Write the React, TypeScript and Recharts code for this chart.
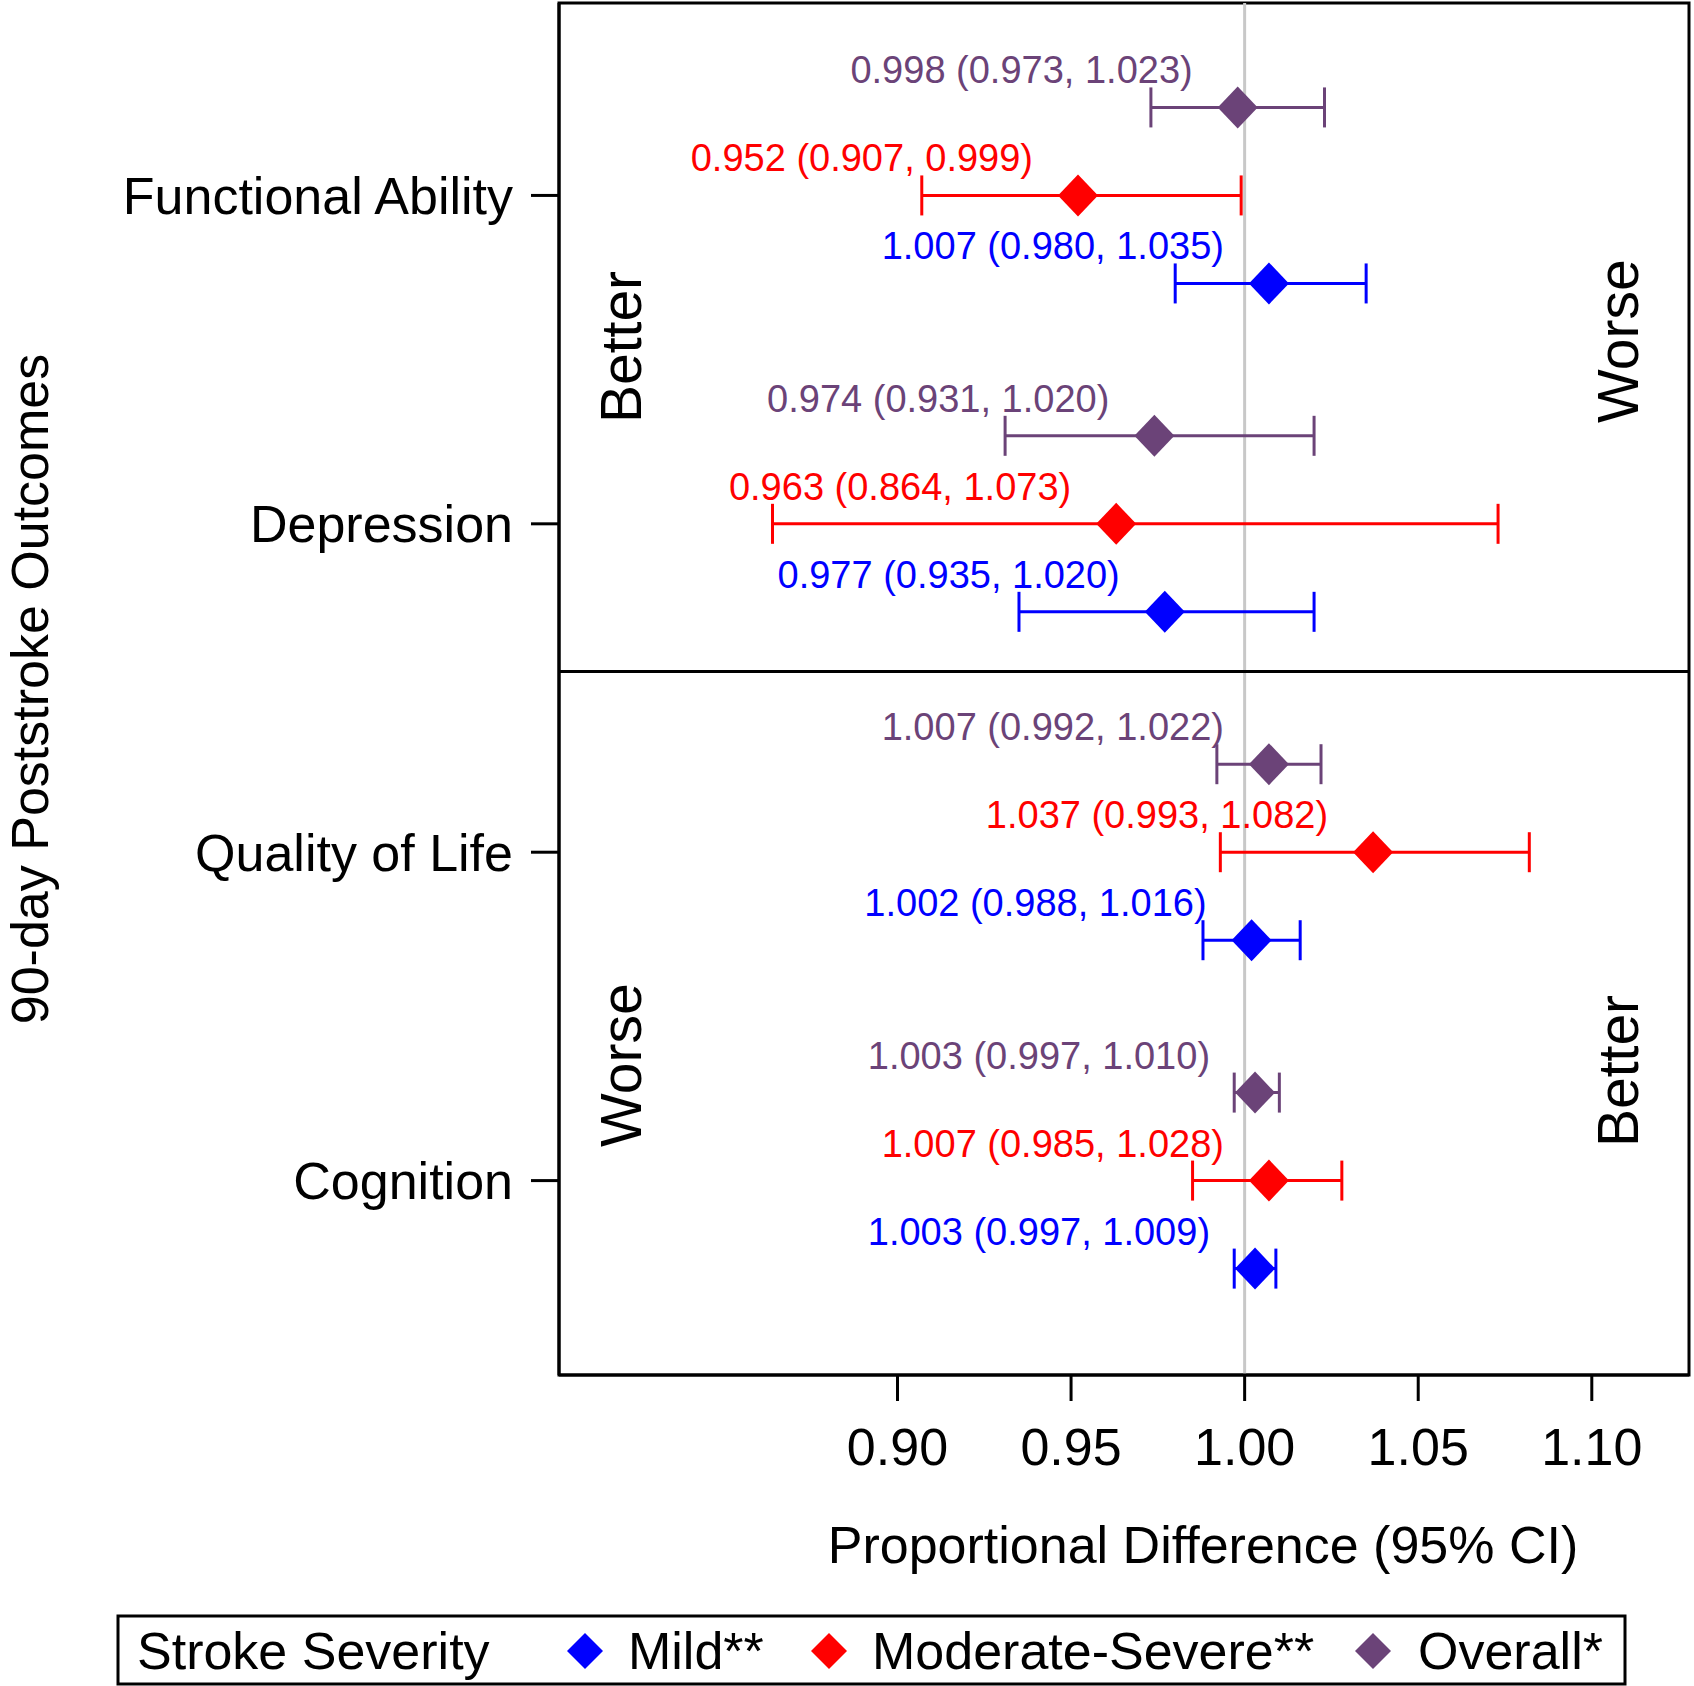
import { ComposedChart, Scatter, XAxis, YAxis, ErrorBar, ReferenceLine, ReferenceArea, Label } from "recharts"

const outcomes = ["Functional Ability", "Depression", "Quality of Life", "Cognition"]
const groups = ["Mild**", "Moderate-Severe**", "Overall*"]
const groupColors = ["#0000ff", "#ff0000", "#6b4378"]

// point estimate, lower and upper 95% CI, one entry per outcome
const mildEst = [1.007, 0.977, 1.002, 1.003]
const mildLo = [0.98, 0.935, 0.988, 0.997]
const mildHi = [1.035, 1.02, 1.016, 1.009]
const modEst = [0.952, 0.963, 1.037, 1.007]
const modLo = [0.907, 0.864, 0.993, 0.985]
const modHi = [0.999, 1.073, 1.082, 1.028]
const allEst = [0.998, 0.974, 1.007, 1.003]
const allLo = [0.973, 0.931, 0.992, 0.997]
const allHi = [1.023, 1.02, 1.022, 1.01]

const xTicks = [0.9, 0.95, 1.0, 1.05, 1.1]
const yTicks = [0, 1, 2, 3]

// layout
const W = 1694
const H = 1686
const X_DOMAIN = [0.8025, 1.128]
const Y_DOMAIN = [-0.586, 3.592]
const ROW_SHIFT = [0.268, 0, -0.268] // mild, moderate, overall
const FONT = "'Liberation Sans', Arial, Helvetica, sans-serif"

const f3 = (v: number) => v.toFixed(3)

function buildRows(est: number[], lo: number[], hi: number[], shift: number) {
  return est.map((e, i) => ({
    x: e,
    y: i + shift,
    err: [e - lo[i], hi[i] - e],
    label: `${f3(e)} (${f3(lo[i])}, ${f3(hi[i])})`,
  }))
}

const series = [
  buildRows(mildEst, mildLo, mildHi, ROW_SHIFT[0]),
  buildRows(modEst, modLo, modHi, ROW_SHIFT[1]),
  buildRows(allEst, allLo, allHi, ROW_SHIFT[2]),
]

const diamond = (color: string) => (props: any) => {
  const { cx, cy, payload } = props
  return (
    <g>
      <polygon points={`${cx},${cy - 21} ${cx + 20},${cy} ${cx},${cy + 21} ${cx - 20},${cy}`} fill={color} />
      <text x={cx - 45} y={cy - 37} textAnchor="end" dominantBaseline="central" fontSize={38} fill={color}>
        {payload.label}
      </text>
    </g>
  )
}

// side notes: [text, x, y-end]
const sideNotes: [string, number, number][] = [
  ["Better", 621, 423],
  ["Worse", 1618, 423],
  ["Worse", 621, 1147],
  ["Better", 1618, 1147],
]

const legendLayout = { box: [118, 1616, 1507, 68], title: 137, marks: [585, 829, 1373], texts: [628, 872, 1418], cy: 1651 }

export default function App() {
  return (
    <div style={{ position: "absolute", left: 0, top: 0, width: W, height: H, fontFamily: FONT, background: "#fff" }}>
      <ComposedChart width={W} height={H} margin={{ top: 3, right: 5, bottom: 0, left: 0 }}>
        <XAxis
          type="number"
          dataKey="x"
          domain={X_DOMAIN}
          allowDataOverflow
          ticks={xTicks}
          interval={0}
          tickFormatter={(v: number) => v.toFixed(2)}
          height={311}
          tickSize={26}
          tickMargin={27}
          tick={{ fontSize: 52, fill: "#000" }}
          axisLine={{ stroke: "#000", strokeWidth: 3 }}
          tickLine={{ stroke: "#000", strokeWidth: 3 }}
        >
          <Label
            content={({ viewBox }: any) => (
              <text x={viewBox.x + 644} y={viewBox.y + 170} textAnchor="middle" dominantBaseline="central" fontSize={52} fill="#000">
                Proportional Difference (95% CI)
              </text>
            )}
          />
        </XAxis>
        <YAxis
          type="number"
          dataKey="y"
          domain={Y_DOMAIN}
          allowDataOverflow
          reversed
          ticks={yTicks}
          interval={0}
          tickFormatter={(v: number) => outcomes[v] ?? ""}
          width={559}
          tickSize={28}
          tickMargin={18}
          tick={{ fontSize: 52, fill: "#000" }}
          axisLine={{ stroke: "#000", strokeWidth: 3 }}
          tickLine={{ stroke: "#000", strokeWidth: 3 }}
        >
          <Label
            content={({ viewBox }: any) => {
              const cx = viewBox.x + 30
              const cy = viewBox.y + viewBox.height / 2
              return (
                <text x={cx} y={cy} transform={`rotate(-90 ${cx} ${cy})`} textAnchor="middle" dominantBaseline="central" fontSize={52} fill="#000">
                  90-day Poststroke Outcomes
                </text>
              )
            }}
          />
        </YAxis>
        <ReferenceLine x={1} stroke="#c8c8c8" strokeWidth={3} />
        <ReferenceLine y={1.45} stroke="#000" strokeWidth={3} />
        <ReferenceArea x1={X_DOMAIN[0]} x2={X_DOMAIN[1]} y1={Y_DOMAIN[0]} y2={Y_DOMAIN[1]} fill="none" fillOpacity={0} stroke="#000" strokeWidth={3} />
        {series.map((rows, k) => (
          <Scatter key={groups[k]} name={groups[k]} data={rows} shape={diamond(groupColors[k])} isAnimationActive={false}>
            <ErrorBar dataKey="err" direction="x" width={20} stroke={groupColors[k]} strokeWidth={3} />
          </Scatter>
        ))}
      </ComposedChart>
      <svg width={W} height={H} style={{ position: "absolute", left: 0, top: 0, pointerEvents: "none" }}>
        {sideNotes.map(([t, x, y], i) => (
          <text key={i} x={x} y={y} transform={`rotate(-90 ${x} ${y})`} textAnchor="start" dominantBaseline="central" fontSize={57} fill="#000">
            {t}
          </text>
        ))}
        <rect
          x={legendLayout.box[0]}
          y={legendLayout.box[1]}
          width={legendLayout.box[2]}
          height={legendLayout.box[3]}
          fill="#fff"
          stroke="#000"
          strokeWidth={3}
        />
        <text x={legendLayout.title} y={legendLayout.cy} dominantBaseline="central" fontSize={52} fill="#000">
          Stroke Severity
        </text>
        {groups.map((g, k) => {
          const mx = legendLayout.marks[k]
          const my = legendLayout.cy
          return (
            <g key={g}>
              <polygon points={`${mx},${my - 18} ${mx + 18},${my} ${mx},${my + 18} ${mx - 18},${my}`} fill={groupColors[k]} />
              <text x={legendLayout.texts[k]} y={my} dominantBaseline="central" fontSize={52} fill="#000">
                {g}
              </text>
            </g>
          )
        })}
      </svg>
    </div>
  )
}
